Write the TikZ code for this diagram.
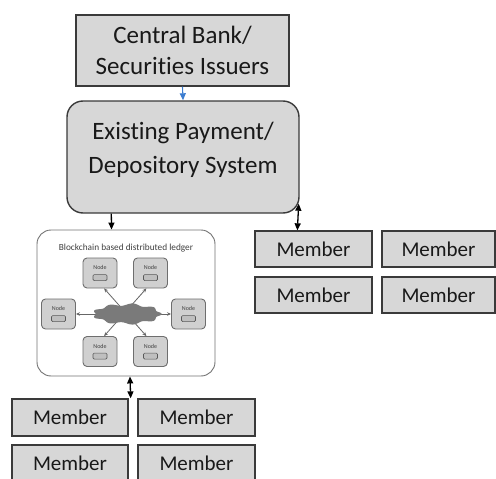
\documentclass[tikz,border=0pt]{standalone}
\usepackage{fontspec}
\setmainfont{Carlito}[Ligatures=NoCommon]
\usetikzlibrary{arrows.meta,calc}
\definecolor{boxfill}{HTML}{D7D7D7}
\definecolor{boxline}{HTML}{3A3A3A}
\definecolor{nodefill}{HTML}{D0D0D0}
\definecolor{nodeline}{HTML}{6E6E6E}
\definecolor{cloudfill}{HTML}{7A7A7A}
\definecolor{flowblue}{HTML}{3C7DD0}
\tikzset{
  bigbox/.style={draw=boxline, fill=boxfill, line width=1.4pt, inner sep=0pt,
    font=\fontsize{25}{31}\selectfont, text=black!90, align=center},
  memberbox/.style={draw=boxline, fill=boxfill, line width=1.3pt, inner sep=0pt,
    minimum height=36pt, font=\fontsize{21}{25}\selectfont, text=black!90},
  ledgerbox/.style={draw=black!55, fill=white, line width=0.9pt, rounded corners=14pt,
    minimum width=178pt, minimum height=146pt, inner sep=0pt},
  peer/.style={draw=nodeline, fill=nodefill, line width=0.9pt, rounded corners=4pt,
    minimum width=34pt, minimum height=30pt, inner sep=0pt},
  peerlabel/.style={font=\fontsize{6}{6}\selectfont, text=black!75, inner sep=0pt},
  slot/.style={draw=black!65, fill=black!25, line width=0.6pt, rounded corners=1.2pt,
    minimum width=14pt, minimum height=6pt, inner sep=0pt},
  flow/.style={line width=1.3pt, -{Triangle[length=7pt,width=6pt]}},
  twoway/.style={line width=1.3pt, {Triangle[length=7pt,width=6pt]}-{Triangle[length=7pt,width=6pt]}},
  link/.style={draw=black!60, line width=0.8pt, {Stealth[length=4pt,width=3.5pt]}-{Stealth[length=4pt,width=3.5pt]}},
  spoke/.style={draw=black!60, line width=0.8pt, -{Stealth[length=4pt,width=3.5pt]}},
}
\begin{document}
\begin{tikzpicture}[x=1pt,y=-1pt]
\useasboundingbox (0,0) rectangle (496,479);
\clip (0,0) rectangle (496,479);

% issuer and settlement system
\node[bigbox, minimum width=213pt, minimum height=71pt] (cb) at (182.5,50.5)
  {Central Bank/\\Securities Issuers};
\node[bigbox, minimum width=232pt, minimum height=112pt, rounded corners=16pt] (ep) at (183,157) {};
\node[font=\fontsize{25}{34}\selectfont, text=black!90, align=center, inner sep=0pt] (eplabel) at (183,150)
  {Existing Payment/\\Depository System};

% distributed ledger
\node[ledgerbox] (bc) at (126,303) {};
\node[font=\fontsize{9.3}{10}\selectfont, text=black!75, inner sep=0pt] (bctitle) at (126,248)
  {Blockchain based distributed ledger};

\foreach \name/\cx/\cy in {tl/100/273, tr/150.5/273, ml/58.5/314, mr/188.5/314, bl/100/351.5, br/150.5/351.5}{
  \node[peer] (\name) at (\cx,\cy) {};
  \node[peerlabel] (\name-lbl) at ($(\name.north)+(0,-10pt)$) {Node};
  \node[slot] (\name-slot) at ($(\name.north)+(0,-20pt)$) {};
}
\coordinate (hub) at (127,314);
\draw[link] (tl.-75) -- (br.105);
\draw[link] (tr.-105) -- (bl.75);
\draw[spoke] (hub) -- (ml.east);
\draw[spoke] (hub) -- (mr.west);
% bumpy network cloud laid over the crossing links
\fill[cloudfill] plot[domain=0:358, samples=90, smooth cycle]
  ({127+33*cos(\x)*(1+0.05*cos(9*\x))}, {314+9.5*sin(\x)*(1+0.13*cos(9*\x))});

% members
\node[memberbox, minimum width=117pt] (rm1) at (313.5,249) {Member};
\node[memberbox, minimum width=113pt] (rm2) at (438.5,249) {Member};
\node[memberbox, minimum width=117pt] (rm3) at (313.5,295) {Member};
\node[memberbox, minimum width=113pt] (rm4) at (438.5,295) {Member};
\node[memberbox, minimum width=116pt, minimum height=37pt] (bm1) at (70,417.5) {Member};
\node[memberbox, minimum width=117pt, minimum height=37pt] (bm2) at (196.5,417.5) {Member};
\node[memberbox, minimum width=116pt, minimum height=37pt] (bm3) at (70,463.5) {Member};
\node[memberbox, minimum width=117pt, minimum height=37pt] (bm4) at (196.5,463.5) {Member};

% connectors
\draw[flow, draw=flowblue, line width=1.1pt] (cb.south) -- (ep.north);
\draw[flow] ([xshift=45pt]ep.south west) -- ([xshift=75pt]bc.north west);
\draw[twoway] ([shift={(-1pt,10pt)}]ep.south east) -- ([xshift=43pt]rm1.north west);
\draw[twoway] ([xshift=4pt]bc.south) -- ([xshift=2pt]bm1.north east);
\end{tikzpicture}
\end{document}
